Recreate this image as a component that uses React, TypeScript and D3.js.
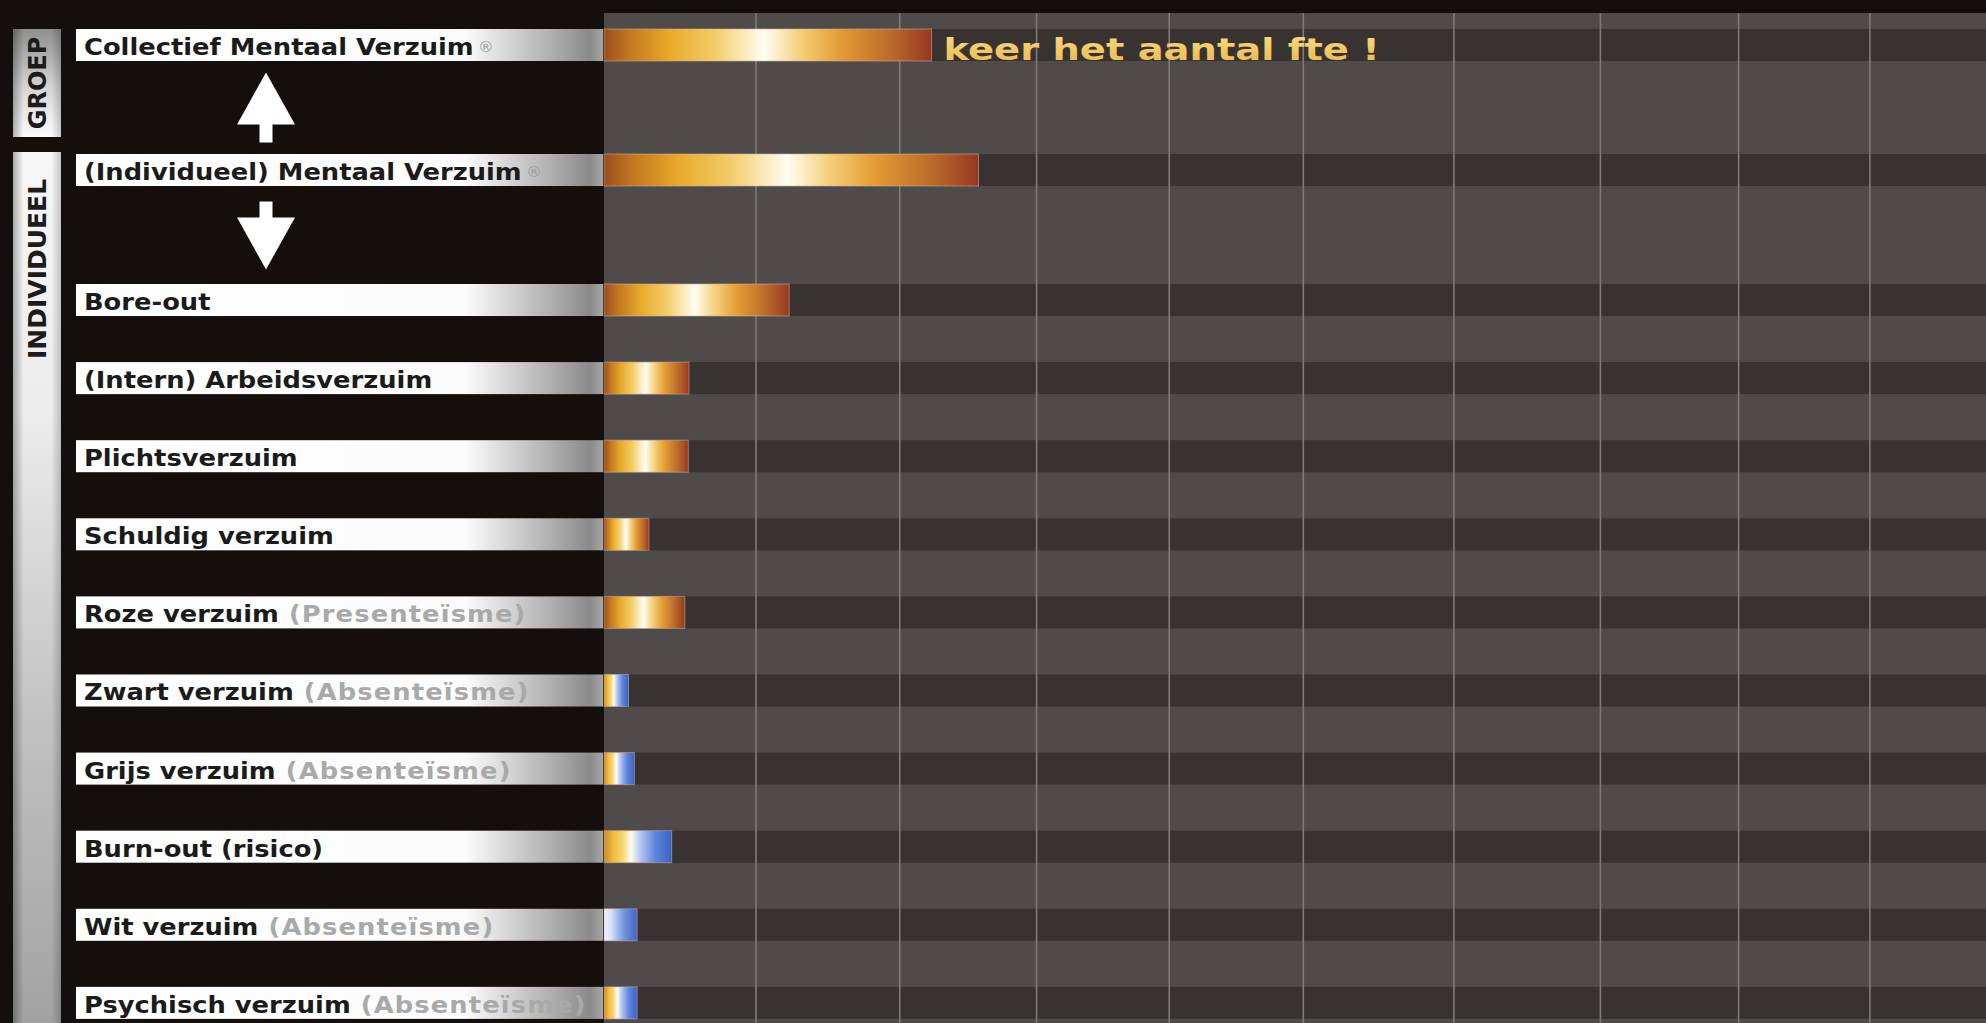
import React, { useEffect } from 'react';
import * as d3 from 'd3';

const W = 1986;
const H = 1023;

// ---- data ----
const categories = [
  'Collectief Mentaal Verzuim',
  '(Individueel) Mentaal Verzuim',
  'Bore-out',
  '(Intern) Arbeidsverzuim',
  'Plichtsverzuim',
  'Schuldig verzuim',
  'Roze verzuim',
  'Zwart verzuim',
  'Grijs verzuim',
  'Burn-out (risico)',
  'Wit verzuim',
  'Psychisch verzuim',
];
const subtitles = ['', '', '', '', '', '', '(Presenteïsme)', '(Absenteïsme)', '(Absenteïsme)', '', '(Absenteïsme)', '(Absenteïsme)'];
const marks = ['®', '®', '', '', '', '', '', '', '', '', '', ''];
const values = [2.37, 2.71, 1.34, 0.615, 0.61, 0.325, 0.585, 0.177, 0.22, 0.49, 0.24, 0.24];
const barTypes = ['gold', 'gold', 'gold', 'gold', 'gold', 'gold', 'gold', 'mix', 'mix', 'mix', 'blue', 'mix'];
const groupLabels = ['GROEP', 'INDIVIDUEEL'];
const gridValues = [1.1, 2.14, 3.13, 4.09, 5.06, 6.15, 7.21, 8.21, 9.16];
const annotation = 'keer het aantal fte !';

// ---- layout ----
const plotLeft = 604;
const labelLeft = 76;
const topBand = 13;
const FONT = '"DejaVu Sans", Verdana, sans-serif';

const x = d3.scaleLinear().domain([0, 10]).range([plotLeft, W]);

const topDomain = [categories[0], 'up', categories[1], 'down'];
const topScale = d3.scaleBand<string>().domain(topDomain).range([29, 248.5]).paddingInner(0.488).paddingOuter(0);
const bottomDomain = categories.slice(2);
const bottomScale = d3.scaleBand<string>().domain(bottomDomain).range([284, 1018.9]).paddingInner(0.59).paddingOuter(0);
const bw = bottomScale.bandwidth();
const yBand = (c: string) => (topDomain.includes(c) ? (topScale(c) as number) : (bottomScale(c) as number));

const gradFor: Record<string, string> = { gold: 'url(#goldGrad)', mix: 'url(#mixGrad)', blue: 'url(#blueGrad)' };

export default function App() {
  useEffect(() => {
    document.body.style.margin = '0';
  }, []);

  const arrowX = 266;
  const upY = (topScale('up') as number) + topScale.bandwidth() / 2;
  const downY = (topScale('down') as number) + topScale.bandwidth() / 2;

  const upArrow = `M ${arrowX} ${upY - 35} L ${arrowX + 29} ${upY + 17} L ${arrowX + 6.5} ${upY + 17} L ${arrowX + 6.5} ${upY + 35} L ${arrowX - 6.5} ${upY + 35} L ${arrowX - 6.5} ${upY + 17} L ${arrowX - 29} ${upY + 17} Z`;
  const downArrow = `M ${arrowX} ${downY + 37} L ${arrowX + 29} ${downY - 15} L ${arrowX + 6.5} ${downY - 15} L ${arrowX + 6.5} ${downY - 31} L ${arrowX - 6.5} ${downY - 31} L ${arrowX - 6.5} ${downY - 15} L ${arrowX - 29} ${downY - 15} Z`;

  const groepTop = yBand(categories[0]);
  const groepBottom = yBand(categories[1]) - 17;
  const indivTop = yBand(categories[1]) - 2;

  return (
    <svg width={W} height={H} style={{ position: 'absolute', left: 0, top: 0, display: 'block' }}>
      <defs>
        <linearGradient id="goldGrad" x1="0" x2="1" y1="0" y2="0">
          <stop offset="0" stopColor="#9a4e1c" />
          <stop offset="0.08" stopColor="#c47820" />
          <stop offset="0.2" stopColor="#e8aa2a" />
          <stop offset="0.34" stopColor="#f3cd6a" />
          <stop offset="0.49" stopColor="#fffdf2" />
          <stop offset="0.6" stopColor="#f4d07a" />
          <stop offset="0.72" stopColor="#e59c34" />
          <stop offset="0.88" stopColor="#b9692a" />
          <stop offset="1" stopColor="#973823" />
        </linearGradient>
        <linearGradient id="mixGrad" x1="0" x2="1" y1="0" y2="0">
          <stop offset="0" stopColor="#c98a2a" />
          <stop offset="0.14" stopColor="#f0bd3c" />
          <stop offset="0.28" stopColor="#f6d676" />
          <stop offset="0.4" stopColor="#fffdf0" />
          <stop offset="0.54" stopColor="#b4c5f0" />
          <stop offset="0.76" stopColor="#5c84dc" />
          <stop offset="1" stopColor="#3a62c2" />
        </linearGradient>
        <linearGradient id="blueGrad" x1="0" x2="1" y1="0" y2="0">
          <stop offset="0" stopColor="#eef2fc" />
          <stop offset="0.22" stopColor="#d6e1fa" />
          <stop offset="0.6" stopColor="#7294de" />
          <stop offset="1" stopColor="#3f66c4" />
        </linearGradient>
        <linearGradient id="labelGrad" x1="0" x2="1" y1="0" y2="0">
          <stop offset="0" stopColor="#ffffff" />
          <stop offset="0.74" stopColor="#fbfbfb" />
          <stop offset="0.9" stopColor="#b0b0b0" />
          <stop offset="0.975" stopColor="#8a8a8a" />
          <stop offset="1" stopColor="#a6a6a6" />
        </linearGradient>
        <linearGradient id="groepGrad" x1="0" x2="0" y1="0" y2="1">
          <stop offset="0" stopColor="#8e8e8e" />
          <stop offset="0.55" stopColor="#d6d6d6" />
          <stop offset="1" stopColor="#fbfbfb" />
        </linearGradient>
        <linearGradient id="indivGrad" x1="0" x2="0" y1="0" y2="1">
          <stop offset="0" stopColor="#f6f6f6" />
          <stop offset="0.3" stopColor="#ececec" />
          <stop offset="0.65" stopColor="#c2c2c2" />
          <stop offset="1" stopColor="#a2a2a2" />
        </linearGradient>
        <linearGradient id="edgeGrad" x1="0" x2="1" y1="0" y2="0">
          <stop offset="0" stopColor="#000" stopOpacity="0.3" />
          <stop offset="0.22" stopColor="#000" stopOpacity="0" />
          <stop offset="0.8" stopColor="#000" stopOpacity="0" />
          <stop offset="1" stopColor="#000" stopOpacity="0.2" />
        </linearGradient>
        <linearGradient id="annotGrad" x1="0" x2="0" y1="0" y2="1">
          <stop offset="0" stopColor="#f9dc86" />
          <stop offset="1" stopColor="#eab84a" />
        </linearGradient>
      </defs>

      {/* backgrounds */}
      <rect x={0} y={0} width={W} height={H} fill="#140f0c" />
      <rect x={plotLeft} y={topBand} width={W - plotLeft} height={H - topBand} fill="#4f4b4a" />

      {/* dark stripes at each row */}
      {categories.map((c) => (
        <rect key={'s' + c} x={plotLeft} y={yBand(c)} width={W - plotLeft} height={bw} fill="#383231" />
      ))}

      {/* grid lines */}
      {gridValues.map((v) => (
        <line key={'g' + v} x1={x(v)} x2={x(v)} y1={topBand} y2={H} stroke="#7e7b7a" strokeWidth={1.6} />
      ))}

      {/* bars */}
      {categories.map((c, i) => (
        <rect
          key={'b' + c}
          x={x(0)}
          y={yBand(c)}
          width={x(values[i]) - x(0)}
          height={bw}
          fill={gradFor[barTypes[i]]}
          stroke="rgba(215,175,165,0.55)"
          strokeWidth={1}
        />
      ))}

      {/* label bars */}
      {categories.map((c) => (
        <rect key={'l' + c} x={labelLeft} y={yBand(c)} width={plotLeft - 1 - labelLeft} height={bw} fill="url(#labelGrad)" />
      ))}

      {/* label texts */}
      {categories.map((c, i) => (
        <text
          key={'t' + c}
          transform={`translate(${labelLeft + 8},${yBand(c) + 26}) scale(1.12,1)`}
          fontFamily={FONT}
          fontWeight="bold"
          fontSize={23}
          fill="#1b1b1b"
        >
          {c}
          {subtitles[i] ? (
            <tspan fill="#a9a9a9" fontWeight="bold" letterSpacing={1}>{' ' + subtitles[i]}</tspan>
          ) : null}
          {marks[i] ? (
            <tspan fill="#9c9c9c" fontWeight="normal" fontSize={14} dx={4} dy={-3}>
              {marks[i]}
            </tspan>
          ) : null}
        </text>
      ))}

      {/* annotation */}
      <text
        transform={`translate(${x(values[0]) + 12},${yBand(categories[0]) + bw / 2 + 14.5}) scale(1.24,1)`}
        fontFamily={FONT}
        fontWeight="bold"
        fontSize={31}
        fill="url(#annotGrad)"
      >
        {annotation}
      </text>

      {/* arrows */}
      <path d={upArrow} fill="#ffffff" />
      <path d={downArrow} fill="#ffffff" />

      {/* group boxes */}
      <rect x={13} y={groepTop} width={48} height={groepBottom - groepTop} fill="url(#groepGrad)" />
      <rect x={13} y={groepTop} width={48} height={groepBottom - groepTop} fill="url(#edgeGrad)" />
      <rect x={13} y={indivTop} width={48} height={H - indivTop} fill="url(#indivGrad)" />
      <rect x={13} y={indivTop} width={48} height={H - indivTop} fill="url(#edgeGrad)" />

      <text
        transform={`translate(46,${(groepTop + groepBottom) / 2}) rotate(-90)`}
        textAnchor="middle"
        fontFamily={FONT}
        fontWeight="bold"
        fontSize={24}
        fill="#1b1b1b"
      >
        {groupLabels[0]}
      </text>
      <text
        transform={`translate(46,${indivTop + 207}) rotate(-90)`}
        textAnchor="start"
        fontFamily={FONT}
        fontWeight="bold"
        fontSize={25}
        fill="#1b1b1b"
      >
        {groupLabels[1]}
      </text>
    </svg>
  );
}
